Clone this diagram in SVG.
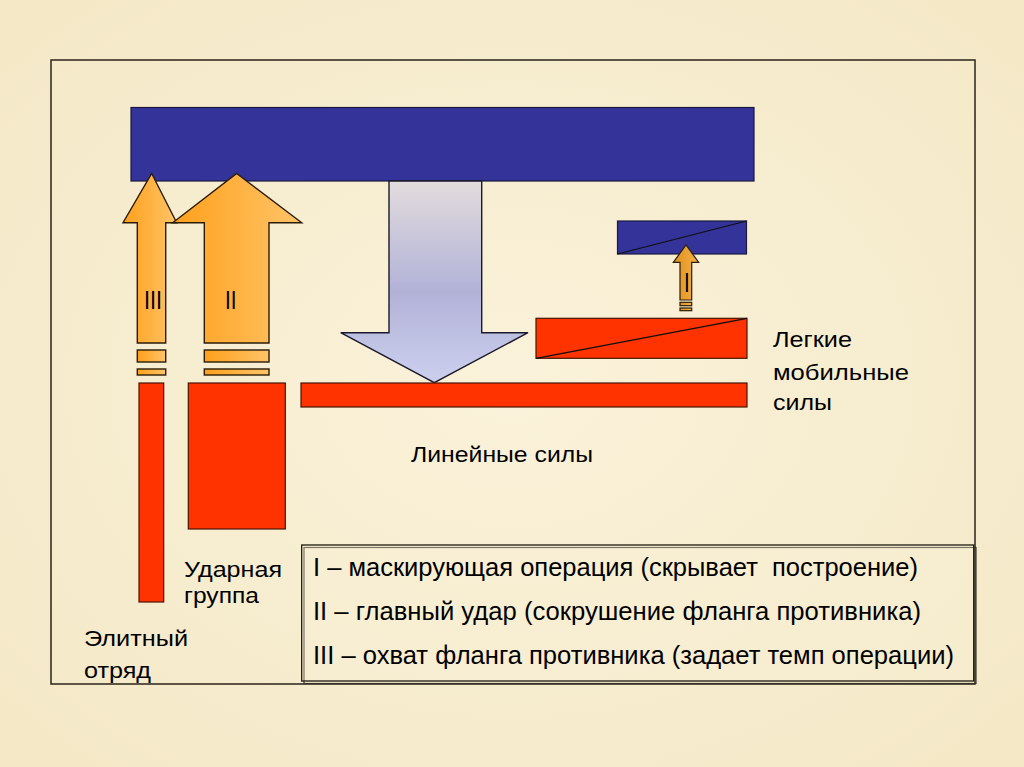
<svg xmlns="http://www.w3.org/2000/svg" width="1024" height="767" viewBox="0 0 1024 767">
<defs>
<linearGradient id="org" x1="0" y1="0" x2="1" y2="0">
<stop offset="0" stop-color="#ffa01c"/>
<stop offset="1" stop-color="#ffc468"/>
</linearGradient>
<linearGradient id="gold" x1="0" y1="0" x2="1" y2="0">
<stop offset="0" stop-color="#e08f1c"/>
<stop offset="1" stop-color="#f2b246"/>
</linearGradient>
<linearGradient id="lav" x1="0" y1="0" x2="0" y2="1">
<stop offset="0" stop-color="#e2dcdc"/>
<stop offset="0.55" stop-color="#b2b2d8"/>
<stop offset="1" stop-color="#ccd0ee"/>
</linearGradient>
<radialGradient id="bg" cx="0.5" cy="0.5" r="0.75">
<stop offset="0" stop-color="#faf2da"/>
<stop offset="1" stop-color="#f3e7c4"/>
</radialGradient>
</defs>
<style>
text{font-family:"Liberation Sans",Arial,sans-serif;fill:#000}
.lbl{font-size:22.5px}
.leg{font-size:25px;white-space:pre}
.num{font-size:26px}
.blue{fill:#333399;stroke:#1a1a40;stroke-width:1.2}
.red{fill:#ff3300;stroke:#4a1400;stroke-width:1.2}
.arr{fill:url(#org);stroke:#2a1c08;stroke-width:1.4;stroke-linejoin:miter}
.arrI{fill:url(#gold);stroke:#2a1c08;stroke-width:1.2}
.diag{stroke:#101010;stroke-width:1.2}
</style>
<rect x="0" y="0" width="1024" height="767" fill="url(#bg)"/>
<rect id="frame" x="51" y="60" width="924" height="624" fill="none" stroke="#2a2418" stroke-width="1.5"/>

<g id="enemy-main">
<rect class="blue" x="131" y="107.5" width="623" height="73.5"/>
</g>

<g id="enemy-small">
<rect class="blue" x="617.5" y="221" width="129" height="33"/>
<line class="diag" x1="617.5" y1="254" x2="746.5" y2="221"/>
</g>

<g id="connectors">
<g id="arrow-III">
<polygon class="arr" points="151.7,173.5 176.7,222.7 165.7,222.7 165.7,343 137.3,343 137.3,222.7 123,222.7"/>
<rect class="arr" x="137.3" y="350" width="28.4" height="12"/>
<rect class="arr" x="137.3" y="369" width="28.4" height="6"/>
<text class="num" x="144" y="308.5" textLength="18" lengthAdjust="spacingAndGlyphs">III</text>
</g>
<g id="arrow-II">
<polygon class="arr" points="236.7,173.5 301.7,222.7 269,222.7 269,343 204.3,343 204.3,222.7 172.7,222.7"/>
<rect class="arr" x="204.3" y="350" width="64.7" height="12"/>
<rect class="arr" x="204.3" y="369" width="64.7" height="6"/>
<text class="num" x="225" y="308.5" textLength="11.5" lengthAdjust="spacingAndGlyphs">II</text>
</g>
<g id="arrow-I">
<polygon class="arrI" points="686,245 698.7,262.3 691.7,262.3 691.7,300 680,300 680,262.3 673.3,262.3"/>
<rect class="arrI" x="680" y="302.3" width="11.7" height="3.4"/>
<rect class="arrI" x="680" y="308" width="11.7" height="2.7"/>
<line x1="687" y1="273" x2="687" y2="292" stroke="#1a1000" stroke-width="2.2"/>
</g>
<g id="arrow-down">
<polygon points="389,181 481.7,181 481.7,332.7 528,332.7 434.3,382.7 340.7,332.7 389,332.7" fill="url(#lav)" stroke="#1a1a2a" stroke-width="1.4"/>
</g>
</g>

<g id="mobile-forces">
<rect class="red" x="536" y="318.3" width="211" height="40"/>
<line class="diag" x1="536" y1="358.3" x2="747" y2="318.3"/>
<text class="lbl" x="773" y="347" textLength="79" lengthAdjust="spacingAndGlyphs">Легкие</text>
<text class="lbl" x="773" y="379.5" textLength="136" lengthAdjust="spacingAndGlyphs">мобильные</text>
<text class="lbl" x="773" y="410" textLength="59" lengthAdjust="spacingAndGlyphs">силы</text>
</g>

<g id="line-forces">
<rect class="red" x="301" y="383" width="446" height="24"/>
<text class="lbl" x="411" y="462" textLength="182" lengthAdjust="spacingAndGlyphs">Линейные силы</text>
</g>

<g id="strike-group">
<rect class="red" x="188.3" y="383" width="97" height="146"/>
<text class="lbl" x="184" y="577" textLength="98" lengthAdjust="spacingAndGlyphs">Ударная</text>
<text class="lbl" x="184" y="603" textLength="75" lengthAdjust="spacingAndGlyphs">группа</text>
</g>

<g id="elite">
<rect class="red" x="139" y="383" width="24.7" height="219"/>
<text class="lbl" x="84" y="646" textLength="104" lengthAdjust="spacingAndGlyphs">Элитный</text>
<text class="lbl" x="84" y="678" textLength="67" lengthAdjust="spacingAndGlyphs">отряд</text>
</g>

<g id="legend">
<rect x="304" y="547.5" width="672" height="136" fill="none" stroke="#3a3428" stroke-width="1.2"/>
<rect x="301.7" y="545" width="672" height="136" fill="#f8f0d8" fill-opacity="0.35" stroke="#1e1a10" stroke-width="1.3"/>
<text class="leg" x="313" y="576" textLength="605" lengthAdjust="spacingAndGlyphs">I – маскирующая операция (скрывает  построение)</text>
<text class="leg" x="313" y="620" textLength="608" lengthAdjust="spacingAndGlyphs">II – главный удар (сокрушение фланга противника)</text>
<text class="leg" x="313" y="664" textLength="641" lengthAdjust="spacingAndGlyphs">III – охват фланга противника (задает темп операции)</text>
</g>
</svg>
